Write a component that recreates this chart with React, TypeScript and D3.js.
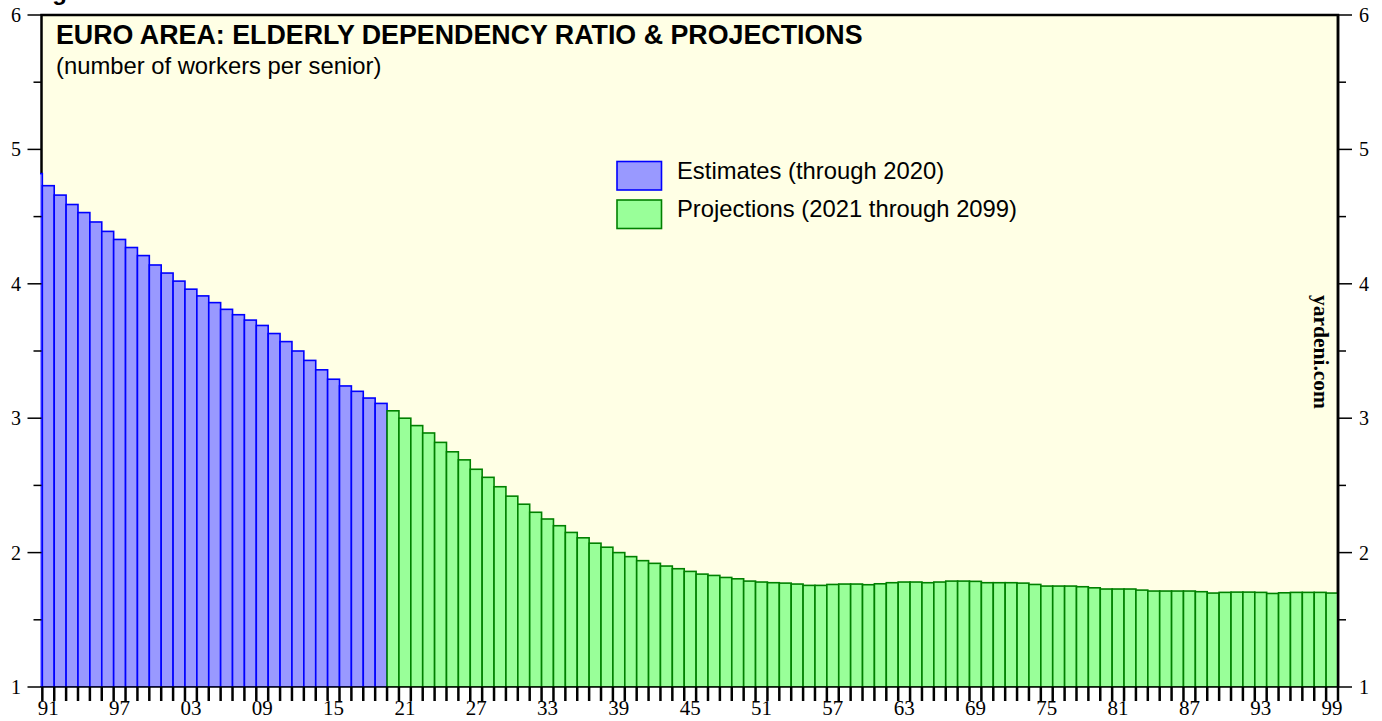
import * as d3 from 'd3';

const WIDTH = 1382;
const HEIGHT = 721;
const margin = { top: 15, right: 44, bottom: 34, left: 41.5 };

const START_YEAR = 1990;
// elderly dependency ratio, estimates (first bar is cut by the left axis)
const estimates = [
  4.82, 4.73, 4.66, 4.59, 4.53, 4.46, 4.39, 4.33, 4.27, 4.21,
  4.14, 4.08, 4.02, 3.96, 3.91, 3.86, 3.81, 3.77, 3.73, 3.69,
  3.63, 3.57, 3.5, 3.43, 3.36, 3.29, 3.24, 3.2, 3.15, 3.11,
];
const projections = [
  3.055, 3.0, 2.945, 2.89, 2.82, 2.75, 2.69, 2.62, 2.56, 2.49,
  2.42, 2.36, 2.3, 2.25, 2.2, 2.15, 2.11, 2.07, 2.04, 2.0,
  1.97, 1.94, 1.92, 1.9, 1.88, 1.86, 1.84, 1.83, 1.815, 1.805,
  1.788, 1.781, 1.776, 1.773, 1.766, 1.756, 1.756, 1.763, 1.766, 1.766,
  1.761, 1.768, 1.776, 1.781, 1.781, 1.776, 1.781, 1.788, 1.788, 1.786,
  1.776, 1.776, 1.776, 1.773, 1.763, 1.751, 1.751, 1.751, 1.746, 1.738,
  1.729, 1.729, 1.729, 1.721, 1.714, 1.714, 1.714, 1.714, 1.709, 1.699,
  1.704, 1.706, 1.706, 1.704, 1.696, 1.701, 1.704, 1.704, 1.704, 1.699,
];

const yTicks = [1, 2, 3, 4, 5, 6];
const yMinorTicks = [1.5, 2.5, 3.5, 4.5, 5.5];
const labelYears = d3.range(1991, 2100, 6);

const title = 'EURO AREA: ELDERLY DEPENDENCY RATIO & PROJECTIONS';
const subtitle = '(number of workers per senior)';
const legendItems = [
  { label: 'Estimates (through 2020)', fill: '#9999ff', stroke: '#0000ff' },
  { label: 'Projections (2021 through 2099)', fill: '#99ff99', stroke: '#008000' },
];

export default function App() {
  const x0 = margin.left;
  const x1 = WIDTH - margin.right;
  const y0 = margin.top;
  const y1 = HEIGHT - margin.bottom;

  const xScale = d3.scaleLinear().domain([1990.93, 2100]).range([x0, x1]);
  const yScale = d3.scaleLinear().domain([1, 6]).range([y1, y0]);

  const bars = [
    ...estimates.map((v, i) => ({ year: START_YEAR + i, v, kind: 0 })),
    ...projections.map((v, i) => ({ year: START_YEAR + estimates.length + i, v, kind: 1 })),
  ];
  const yearTicks = d3.range(1991, 2101);

  const sans = 'Arial, "Liberation Sans", Helvetica, sans-serif';
  const serif = '"Times New Roman", "Liberation Serif", Times, serif';

  return (
    <svg width={WIDTH} height={HEIGHT} style={{ position: 'absolute', left: 0, top: 0 }}>
      <rect x={0} y={0} width={WIDTH} height={HEIGHT} fill="#ffffff" />
      <defs>
        <clipPath id="plot">
          <rect x={x0 - 1.5} y={y0} width={x1 - x0 + 1.5} height={y1 - y0} />
        </clipPath>
      </defs>
      <rect x={x0} y={y0} width={x1 - x0} height={y1 - y0} fill="#ffffe5" />

      <text x={31} y={0} fontFamily={sans} fontWeight="bold" fontSize={24}>Figure</text>

      {/* frame */}
      <path d={`M${x0},${y1}V${y0}H${x1}V${y1}`} fill="none" stroke="#000" strokeWidth={2.5} />

      <g clipPath="url(#plot)">
        {bars.map((b) => (
          <rect
            key={b.year}
            x={xScale(b.year)}
            y={yScale(b.v)}
            width={xScale(b.year + 1) - xScale(b.year)}
            height={yScale(1) - yScale(b.v)}
            fill={legendItems[b.kind].fill}
            stroke={legendItems[b.kind].stroke}
            strokeWidth={1.6}
          />
        ))}
      </g>
      <line x1={x1} x2={x1} y1={y0} y2={y1} stroke="#000" strokeWidth={2.5} />
      <line x1={x0} x2={x1} y1={y1} y2={y1} stroke="#000" strokeWidth={1.5} />

      <text x={56} y={44} fontFamily={sans} fontWeight="bold" fontSize={26.8}>{title}</text>
      <text x={56} y={74} fontFamily={sans} fontSize={23.8}>{subtitle}</text>

      {legendItems.map((d, i) => (
        <g key={d.label} transform={`translate(617,${161.5 + i * 38.5})`}>
          <rect x={0} y={0} width={44.5} height={28.5} fill={d.fill} stroke={d.stroke} strokeWidth={1.6} />
          <text x={60} y={17} fontFamily={sans} fontSize={23.8}>{d.label}</text>
        </g>
      ))}

      <text
        transform={`translate(1314,${yScale(3.5) + 1}) rotate(90)`}
        textAnchor="middle"
        fontFamily={serif}
        fontWeight="bold"
        fontSize={21.5}
      >
        yardeni.com
      </text>

      {/* y axes */}
      {yTicks.map((t) => (
        <g key={t}>
          <line x1={x0 - 14} x2={x0} y1={yScale(t)} y2={yScale(t)} stroke="#000" strokeWidth={1.5} />
          <line x1={x1} x2={x1 + 14} y1={yScale(t)} y2={yScale(t)} stroke="#000" strokeWidth={1.5} />
          <text x={21} y={yScale(t) + 7} textAnchor="end" fontFamily={serif} fontSize={20}>{t}</text>
          <text x={1359} y={yScale(t) + 7} fontFamily={serif} fontSize={20}>{t}</text>
        </g>
      ))}
      {yMinorTicks.map((t) => (
        <g key={t}>
          <line x1={x0 - 8} x2={x0} y1={yScale(t)} y2={yScale(t)} stroke="#000" strokeWidth={1.5} />
          <line x1={x1} x2={x1 + 8} y1={yScale(t)} y2={yScale(t)} stroke="#000" strokeWidth={1.5} />
        </g>
      ))}

      {/* x axis */}
      {yearTicks.map((yr) => (
        <line key={yr} x1={xScale(yr)} x2={xScale(yr)} y1={y1} y2={y1 + 14} stroke="#000" strokeWidth={2.5} />
      ))}
      {labelYears.map((yr) => (
        <text key={yr} x={xScale(yr + 0.5)} y={715} textAnchor="middle" fontFamily={serif} fontSize={21}>
          {String(yr % 100).padStart(2, '0')}
        </text>
      ))}
    </svg>
  );
}
